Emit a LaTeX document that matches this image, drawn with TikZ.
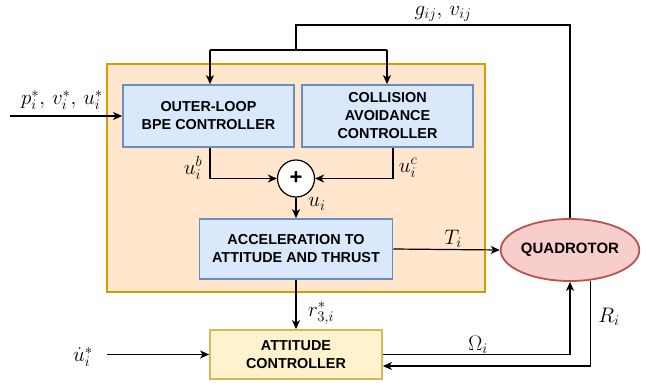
\RequirePackage{fix-cm}
\documentclass[tikz,border=0pt]{standalone}
\usepackage{fontspec}
\setmainfont{Liberation Sans}
\usetikzlibrary{arrows.meta,shapes.geometric,calc}
\definecolor{orfill}{HTML}{FFE6CC}
\definecolor{ordraw}{HTML}{D79B00}
\definecolor{blfill}{HTML}{DAE8FC}
\definecolor{bldraw}{HTML}{6C8EBF}
\definecolor{yefill}{HTML}{FFF2CC}
\definecolor{yedraw}{HTML}{D6B656}
\definecolor{rdfill}{HTML}{F8CECC}
\definecolor{rddraw}{HTML}{B85450}
\tikzset{
  blockbox/.style={draw=bldraw, fill=blfill, line width=1.8pt, inner sep=0pt,
    font=\fontsize{14.4}{18}\selectfont\bfseries, align=center},
  attbox/.style={draw=yedraw, fill=yefill, line width=1.8pt, inner sep=0pt,
    font=\fontsize{14.4}{18}\selectfont\bfseries, align=center},
  quadbox/.style={ellipse, draw=rddraw, fill=rdfill, line width=1.8pt, inner sep=0pt,
    font=\fontsize{15}{18}\selectfont\bfseries, align=center},
  sumnode/.style={circle, draw=black, fill=white, line width=1.2pt, inner sep=0pt, minimum size=37pt},
  conn/.style={line width=1.2pt, draw=black},
  arr/.style={conn, -{Stealth[length=9pt,width=8pt,inset=2.5pt]}},
  mlabel/.style={inner sep=0pt, font=\fontsize{21}{24}\selectfont}
}
\begin{document}
\begin{tikzpicture}[x=1pt,y=-1pt]
\useasboundingbox (0,0) rectangle (646,386);
\fill[white] (0,0) rectangle (646,386);
% outer orange box
\node[draw=ordraw, fill=orfill, line width=1.8pt, minimum width=378pt, minimum height=228pt, inner sep=0pt] (outer) at (296,178) {};
% blocks
\node[blockbox, minimum width=171pt, minimum height=62pt] (bpe) at (208.5,116) {OUTER-LOOP\\BPE CONTROLLER};
\node[blockbox, minimum width=171pt, minimum height=62pt] (coll) at (387.5,116) {COLLISION\\AVOIDANCE\\CONTROLLER};
\node[sumnode] (sum) at (296,178.5) {\fontsize{22}{22}\selectfont\bfseries +};
\node[blockbox, minimum width=193pt, minimum height=60pt] (acc) at (296,249) {ACCELERATION TO\\ATTITUDE AND THRUST};
\node[quadbox, minimum width=122pt, minimum height=62pt] (quad) at (570,250) {QUADROTOR};
\node[attbox, minimum width=172pt, minimum height=49pt] (att) at (296,354.5) {ATTITUDE\\CONTROLLER};
% coordinates
\coordinate (pin) at (10,116);
\coordinate (udin) at (107,354.5);
\coordinate (topr) at (570,25);
\coordinate (topl) at (296,25);
\coordinate (split) at (296,50);
\coordinate (splitl) at (210,50);
\coordinate (splitr) at (387,50);
% connectors
\draw[arr] (pin) -- (bpe.west);
\draw[conn] (quad.north) -- (topr) -- (topl) -- (split);
\draw[conn] (splitl) -- (splitr);
\draw[arr] (splitl) -- (splitl |- bpe.north);
\draw[arr] (splitr) -- (splitr |- coll.north);
\draw[arr] (bpe.south -| splitl) |- (sum.west);
\draw[arr] ([xshift=5.5pt]coll.south) |- (sum.east);
\draw[arr] (sum.south) -- (acc.north);
\draw[arr] (acc.east) -- (quad.west);
\draw[arr] (acc.south) -- (att.north);
\draw[arr] (udin) -- (att.west);
\draw[arr] (att.east) -| (quad.south);
\draw[arr] (quad.-56) |- ([yshift=-11.5pt]att.east);
% labels
\node[mlabel] (lp) at (62,100) {$p_i^*,\, v_i^*,\, u_i^*$};
\node[mlabel] (lg) at (443,13.5) {$g_{ij},\, v_{ij}$};
\node[mlabel] (lub) at (193,168) {$u_i^b$};
\node[mlabel] (luc) at (408,168) {$u_i^c$};
\node[mlabel] (lu) at (317,204) {$u_i$};
\node[mlabel] (lt) at (453,239) {$T_i$};
\node[mlabel] (lr) at (321,313) {$r_{3,i}^*$};
\node[mlabel] (lo) at (478,345) {$\Omega_i$};
\node[mlabel] (lR) at (609,317) {$R_i$};
\node[mlabel] (lud) at (83,357) {$\dot u_i^*$};
\end{tikzpicture}
\end{document}
